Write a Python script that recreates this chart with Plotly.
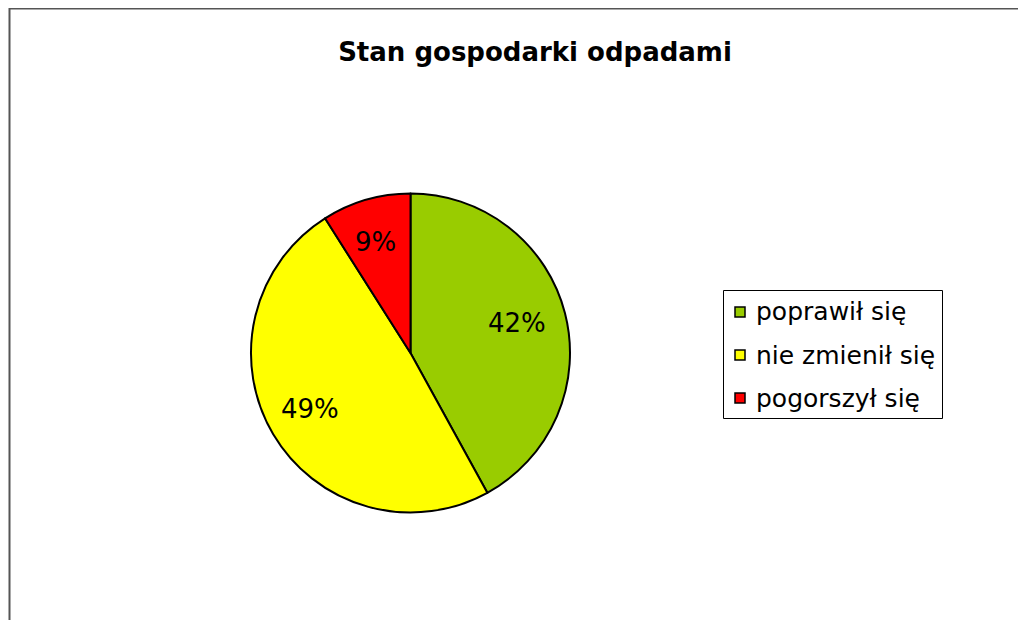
import math
import plotly.graph_objects as go

categories = ["poprawił się", "nie zmienił się", "pogorszył się"]
values = [42, 49, 9]
colors = ["#99CC00", "#FFFF00", "#FF0000"]
title_text = "Stan gospodarki odpadami"

W, H = 1026, 620
OX, OY = 8, 8  # page offset of the figure inside the browser window
FONT = "DejaVu Sans, Verdana, sans-serif"


def px(x):
    return (x - OX) / W


def py(y):
    return 1 - (y - OY) / H


# pie geometry (screen pixels)
CX, CY, R = 410.5, 353, 159.5

fig = go.Figure()
fig.add_trace(go.Pie(
    labels=categories,
    values=values,
    sort=False,
    direction="clockwise",
    rotation=0,
    marker=dict(colors=colors, line=dict(color="#000000", width=2)),
    textinfo="none",
    domain=dict(x=[px(CX - R), px(CX + R)], y=[py(CY + R), py(CY - R)]),
    showlegend=False,
    hoverinfo="label+percent",
))

# percentage labels placed inside each slice (computed from the values)
total = sum(values)
cum = 0
for v in values:
    mid = (cum + v / 2) / total * 2 * math.pi
    cum += v
    r = 0.71 * R
    x = CX + r * math.sin(mid)
    y = CY - r * math.cos(mid)
    fig.add_annotation(xref="paper", yref="paper", x=px(x - 3), y=py(y - 2),
                       xanchor="center", yanchor="middle", showarrow=False,
                       text=f"{round(v / total * 100)}%",
                       font=dict(family=FONT, size=26, color="#000000"))

# Chart frame (extends beyond the right and bottom edges)
fig.add_shape(type="rect", xref="paper", yref="paper",
              x0=px(9.5), x1=1.2, y0=-0.2, y1=py(8.5),
              line=dict(color="#555555", width=2), fillcolor="rgba(0,0,0,0)", layer="above")

# Legend box
lx0, lx1, ly0, ly1 = 723.5, 942.5, 290.5, 418.5
fig.add_shape(type="rect", xref="paper", yref="paper",
              x0=px(lx0), x1=px(lx1), y0=py(ly1), y1=py(ly0),
              line=dict(color="#000000", width=1), fillcolor="#FFFFFF")
row_y = [312, 355, 398]
for cat, col, yy in zip(categories, colors, row_y):
    fig.add_shape(type="rect", xref="paper", yref="paper",
                  x0=px(735), x1=px(745), y0=py(yy + 5), y1=py(yy - 5),
                  line=dict(color="#000000", width=1.5), fillcolor=col)
    fig.add_annotation(xref="paper", yref="paper", x=px(754), y=py(yy),
                       xanchor="left", yanchor="middle", showarrow=False,
                       text=cat, font=dict(family=FONT, size=25, color="#000000"))

fig.update_layout(
    width=W, height=H,
    margin=dict(l=0, r=0, t=0, b=0),
    paper_bgcolor="#FFFFFF",
    plot_bgcolor="#FFFFFF",
    title=dict(text="<b>" + title_text + "</b>", x=px(535), xanchor="center",
               y=py(52), yanchor="middle",
               font=dict(family=FONT, size=26, color="#000000")),
    showlegend=False,
)

fig.write_html("out.html")
